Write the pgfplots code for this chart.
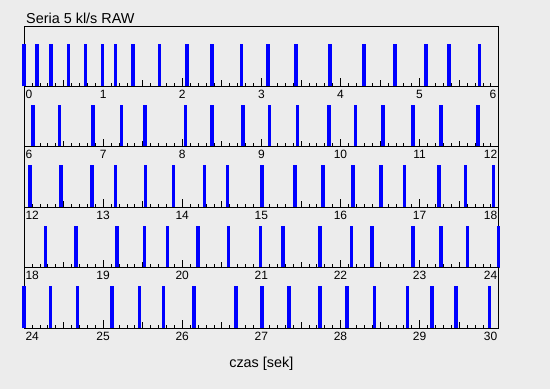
\documentclass[border=0pt]{standalone}
\usepackage{pgfplots}
\pgfplotsset{compat=1.18}
\usepackage{fontspec}
\setmainfont{Liberation Sans}
\definecolor{bg}{RGB}{236,236,236}
\pgfplotsset{
  rowstyle/.style={
    scale only axis, width=474.7pt, height=60.46pt,
    ymin=0, ymax=1, ytick=\empty,
    xtick pos=left, tick align=inside,
    major tick length=8pt, minor tick length=3.5pt,
    minor x tick num=9,
    every tick/.style={black, line width=0.6pt},
    axis line style={black, line width=0.9pt},
    xticklabel style={font=\fontsize{12}{12}\selectfont, inner sep=0pt, anchor=north, yshift=-3.5pt},
    extra x tick labels={},
    extra x tick style={major tick length=6pt},
    clip=false,
    anchor=north west,
  },
  bars/.style={ycomb, blue, line width=3.6pt, mark=none},
}
\begin{document}
\begin{tikzpicture}
\fill[bg] (0pt,0pt) rectangle (550pt,389pt);
\node[anchor=base west, font=\fontsize{14.4}{14.4}\selectfont, inner sep=0pt] at (26pt,365.7pt) {Seria 5 kl/s RAW};
% row 1
\begin{axis}[rowstyle, at={(24pt,363pt)}, xmin=0, xmax=6,
  xtick={0,1,2,3,4,5,6},
  xticklabels={\makebox[0pt][l]{\hspace{1.5pt}0},1,2,3,4,5,\makebox[0pt][r]{6\hspace{2.5pt}}},
  extra x ticks={0.5,1.5,2.5,3.5,4.5,5.5}]
\addplot[bars] coordinates {(0.0,0.7) (0.164,0.7) (0.345,0.7) (0.560,0.7) (0.775,0.7) (0.990,0.7) (1.159,0.7) (1.378,0.7) (1.715,0.7) (2.061,0.7) (2.373,0.7) (2.747,0.7) (3.085,0.7) (3.439,0.7) (3.865,0.7) (4.295,0.7) (4.690,0.7) (5.078,0.7) (5.369,0.7) (5.756,0.7)};
\end{axis}
% row 2
\begin{axis}[rowstyle, at={(24pt,302.54pt)}, xmin=6, xmax=12,
  xtick={6,7,8,9,10,11,12},
  xticklabels={\makebox[0pt][l]{\hspace{1.5pt}6},7,8,9,10,11,\makebox[0pt][r]{12\hspace{1.5pt}}},
  extra x ticks={6.5,7.5,8.5,9.5,10.5,11.5}]
\addplot[bars] coordinates {(6.114,0.7) (6.451,0.7) (6.872,0.7) (7.230,0.7) (7.530,0.7) (8.039,0.7) (8.373,0.7) (8.769,0.7) (9.101,0.7) (9.455,0.7) (9.852,0.7) (10.188,0.7) (10.539,0.7) (10.914,0.7) (11.272,0.7) (11.736,0.7)};
\end{axis}
% row 3
\begin{axis}[rowstyle, at={(24pt,242.08pt)}, xmin=12, xmax=18,
  xtick={12,13,14,15,16,17,18},
  xticklabels={\makebox[0pt][l]{\hspace{1.5pt}12},13,14,15,16,17,\makebox[0pt][r]{18\hspace{1.5pt}}},
  extra x ticks={12.5,13.5,14.5,15.5,16.5,17.5}]
\addplot[bars] coordinates {(12.076,0.7) (12.468,0.7) (12.860,0.7) (13.159,0.7) (13.534,0.7) (13.892,0.7) (14.280,0.7) (14.570,0.7) (15.009,0.7) (15.426,0.7) (15.776,0.7) (16.159,0.7) (16.509,0.7) (16.808,0.7) (17.247,0.7) (17.579,0.7) (17.933,0.7)};
\end{axis}
% row 4
\begin{axis}[rowstyle, at={(24pt,181.62pt)}, xmin=18, xmax=24,
  xtick={18,19,20,21,22,23,24},
  xticklabels={\makebox[0pt][l]{\hspace{1.5pt}18},19,20,21,22,23,\makebox[0pt][r]{24\hspace{1.5pt}}},
  extra x ticks={18.5,19.5,20.5,21.5,22.5,23.5}]
\addplot[bars] coordinates {(18.274,0.7) (18.657,0.7) (19.176,0.7) (19.521,0.7) (19.816,0.7) (20.196,0.7) (20.583,0.7) (20.988,0.7) (21.274,0.7) (21.742,0.7) (22.138,0.7) (22.400,0.7) (22.918,0.7) (23.272,0.7) (23.605,0.7) (24.0,0.7)};
\end{axis}
% row 5
\begin{axis}[rowstyle, at={(24pt,121.16pt)}, xmin=24, xmax=30,
  xtick={24,25,26,27,28,29,30},
  xticklabels={\makebox[0pt][l]{\hspace{1.5pt}24},25,26,27,28,29,\makebox[0pt][r]{30\hspace{1.5pt}}},
  extra x ticks={24.5,25.5,26.5,27.5,28.5,29.5},
  xlabel={czas [sek]},
  xlabel style={at={(axis description cs:0.5,0)}, anchor=base, yshift=-39.4pt, font=\fontsize{14.4}{14.4}\selectfont, inner sep=0pt}]
\addplot[bars] coordinates {(24.0,0.7) (24.337,0.7) (24.678,0.7) (25.113,0.7) (25.462,0.7) (25.761,0.7) (26.145,0.7) (26.676,0.7) (27.009,0.7) (27.350,0.7) (27.742,0.7) (28.079,0.7) (28.429,0.7) (28.846,0.7) (29.158,0.7) (29.461,0.7) (29.883,0.7)};
\end{axis}
\end{tikzpicture}
\end{document}
